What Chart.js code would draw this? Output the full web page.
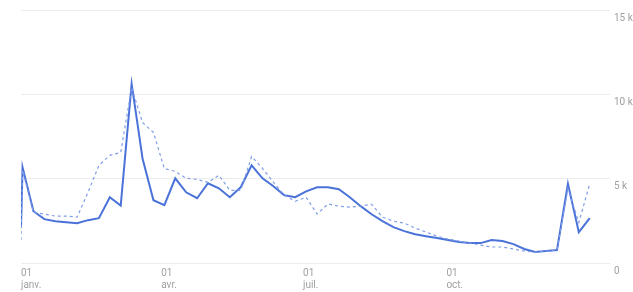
<!DOCTYPE html>
<html>
<head>
<meta charset="utf-8">
<script src="https://cdn.jsdelivr.net/npm/chart.js@4"></script>
<style>
  html, body { margin: 0; padding: 0; background: #fff; overflow: hidden; }
  #wrap { width: 645px; height: 292px; }
</style>
</head>
<body>
<div id="wrap"><canvas id="chart" width="645" height="292"></canvas></div>
<script>
// jours depuis le 1er janvier (un point par semaine)
const days = [0, 1, 8, 15, 22, 29, 36, 43, 50, 57, 64, 71, 78, 85, 92, 99, 106, 113, 120,
  127, 134, 141, 148, 155, 162, 169, 176, 183, 190, 197, 204, 211, 218, 225, 232, 239,
  246, 253, 260, 267, 274, 281, 288, 295, 302, 309, 316, 323, 330, 337, 344, 351, 358, 365];

// série principale (trait plein), en milliers
const serieActuelle = [2.07, 5.67, 3.07, 2.6, 2.48, 2.42, 2.36, 2.54, 2.66, 3.9, 3.4, 10.63,
  6.2, 3.72, 3.43, 5.02, 4.19, 3.84, 4.73, 4.43, 3.9, 4.49, 5.79, 5.02, 4.55, 4.02, 3.9,
  4.25, 4.49, 4.49, 4.37, 3.9, 3.37, 2.89, 2.48, 2.13, 1.89, 1.71, 1.59, 1.48, 1.36, 1.24,
  1.18, 1.18, 1.36, 1.3, 1.12, 0.83, 0.65, 0.71, 0.77, 4.7, 1.83, 2.66];

// série de comparaison (pointillés), en milliers
const seriePrecedente = [1.36, 5.5, 3.0, 2.9, 2.78, 2.78, 2.72, 4.19, 5.79, 6.38, 6.56, 10.4,
  8.33, 7.74, 5.6, 5.43, 5.02, 4.96, 4.78, 5.2, 4.31, 4.31, 6.32, 5.61, 4.78, 4.02, 3.66,
  3.9, 2.9, 3.5, 3.37, 3.31, 3.37, 3.48, 2.72, 2.48, 2.36, 2.07, 1.83, 1.59, 1.42, 1.3,
  1.18, 1.06, 0.95, 0.95, 0.83, 0.71, 0.65, 0.71, 0.77, 4.4, 2.4, 4.7];

// graduations de l'axe horizontal
const tickDays = [0, 90, 181, 273];
const tickMois = ['janv.', 'avr.', 'juil.', 'oct.'];

const yTicks = [0, 5000, 10000, 15000];

const couleurTexte = '#a0a0a0';
const policeAxe = { family: 'Roboto, Arial, sans-serif', size: 10 };

new Chart(document.getElementById('chart').getContext('2d'), {
    type: 'line',
    data: {
        datasets: [
            {
                label: 'Précédent',
                data: days.map((d, i) => ({ x: d, y: seriePrecedente[i] * 1000 })),
                borderColor: '#7f9ee6',
                borderWidth: 1.2,
                borderDash: [3, 3],
                pointRadius: 0,
                tension: 0
            },
            {
                label: 'Actuel',
                data: days.map((d, i) => ({ x: d, y: serieActuelle[i] * 1000 })),
                borderColor: '#4a72d9',
                borderWidth: 2,
                pointRadius: 0,
                tension: 0
            }
        ]
    },
    options: {
        responsive: false,
        animation: false,
        layout: { padding: { left: 21, top: 9, right: 0, bottom: 0 } },
        plugins: {
            legend: { display: false },
            tooltip: { enabled: false }
        },
        scales: {
            x: {
                type: 'linear',
                min: 0,
                max: 378,
                afterBuildTicks: axis => { axis.ticks = tickDays.map(v => ({ value: v })); },
                afterFit: axis => { axis.height = 29; },
                grid: { display: false, drawTicks: false },
                border: { display: false },
                ticks: {
                    autoSkip: false,
                    maxRotation: 0,
                    align: 'start',
                    padding: 4,
                    color: couleurTexte,
                    font: policeAxe,
                    callback: (v) => {
                        const i = tickDays.indexOf(v);
                        return i >= 0 ? ['01', tickMois[i]] : '';
                    }
                }
            },
            y: {
                position: 'right',
                min: 0,
                max: 15000,
                afterBuildTicks: axis => { axis.ticks = yTicks.map(v => ({ value: v })); },
                afterFit: axis => { axis.width = 35; },
                grid: { color: '#ececec', lineWidth: 1, drawTicks: false },
                border: { display: false },
                ticks: {
                    padding: 4,
                    labelOffset: 8,
                    color: couleurTexte,
                    font: policeAxe,
                    callback: v => v === 0 ? '0' : (v / 1000) + ' k'
                }
            }
        }
    }
});
</script>
</body>
</html>
